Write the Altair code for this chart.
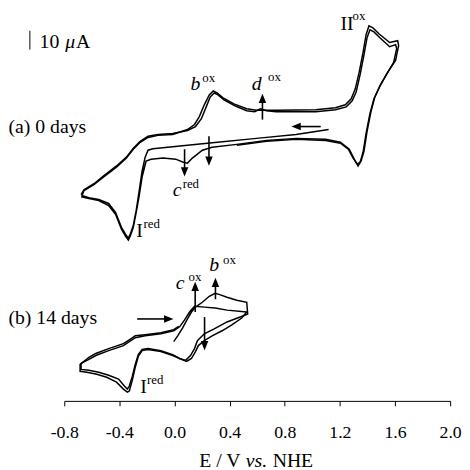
import altair as alt
import pandas as pd

# ---- data (E in V vs NHE, I in uA incl. vertical offset of each panel) ----
a_scan1 = [(1.118,144.7),(0.882,142.1),(0.595,140.0),(0.238,137.4),(-0.049,135.3),(-0.156,134.5),
 (-0.192,133.7),(-0.213,130.0),(-0.235,122.6),(-0.256,112.1),(-0.278,101.6),(-0.299,93.7),(-0.321,88.9),
 (-0.335,86.8),(-0.356,88.9),(-0.385,92.6),(-0.428,100.5),(-0.478,105.3),(-0.550,107.4),(-0.621,108.4),
 (-0.671,109.5),
 (-0.657,112.1),(-0.585,115.3),(-0.514,119.5),(-0.421,124.7),(-0.349,129.5),(-0.299,134.2),(-0.249,137.9),
 (-0.192,140.5),(-0.120,141.6),(-0.013,142.1),(0.094,144.7),(0.145,147.4),(0.180,151.6),(0.216,157.9),
 (0.252,163.2),(0.281,165.3),(0.309,164.2),(0.352,161.6),(0.431,158.4),(0.524,155.8),(0.595,155.0),
 (0.738,155.0),(1.025,155.3),(1.168,156.3),(1.239,157.9),(1.282,161.1),(1.311,166.3),(1.340,175.3),
 (1.368,185.8),(1.390,195.3),(1.411,200.0),(1.440,198.9),(1.483,195.8),(1.561,191.1),(1.619,192.1),
 (1.626,189.5),(1.604,181.6),(1.547,175.3),(1.497,168.9),(1.454,162.1),(1.425,154.2),(1.397,143.7),
 (1.375,133.2),(1.354,127.9),(1.332,125.3),(1.304,128.9),(1.268,134.2),(1.204,137.9),(1.096,139.5),
 (0.882,140.0),(0.667,138.9),(0.452,136.8),(0.273,135.3),(0.202,133.7),(0.130,129.5),(0.094,126.8),
 (0.059,127.4),(0.009,128.9),(-0.084,129.5),(-0.170,128.9),(-0.206,127.9),(-0.235,119.5),(-0.256,109.5),
 (-0.278,100.5),(-0.299,92.6),(-0.321,87.9),(-0.335,85.8),(-0.356,87.9),(-0.385,91.6),(-0.428,99.5),
 (-0.478,104.2),(-0.550,106.8),(-0.621,107.9),(-0.678,108.9)]

a_scan2 = [(-0.678,110.0),(-0.657,112.6),(-0.585,115.8),(-0.514,120.0),(-0.421,125.3),(-0.349,130.0),
 (-0.299,134.7),(-0.249,138.4),(-0.192,141.1),(-0.120,142.1),(-0.013,142.6),(0.094,144.2),(0.152,146.3),
 (0.195,150.5),(0.230,156.8),(0.259,162.1),(0.288,164.2),(0.316,163.2),(0.359,160.5),(0.438,157.4),
 (0.524,154.7),(0.581,154.2),(0.624,155.8),(0.667,154.7),(0.738,154.2),(1.025,154.2),(1.168,155.3),
 (1.246,156.8),(1.289,160.0),(1.318,164.7),(1.347,174.2),(1.375,184.7),(1.397,193.7),(1.418,197.9),
 (1.447,196.8),(1.490,193.7),(1.561,188.9),(1.604,190.0),
 (1.612,187.9),(1.590,180.5),(1.540,174.2),(1.490,167.9),(1.447,161.1),(1.418,153.2),(1.390,142.6),
 (1.368,132.6),(1.347,127.4),(1.325,126.3),(1.296,129.5),(1.261,134.2),(1.204,137.4),(1.096,138.9),
 (0.882,139.5),(0.667,138.4),(0.452,136.3)]

b_scan1 = [(-0.006,31.6),(0.023,34.7),(0.059,38.9),(0.094,43.7),(0.123,47.4),(0.152,50.0),(0.202,52.6),
 (0.252,55.8),(0.295,57.4),(0.323,56.8),(0.381,55.3),(0.452,53.7),(0.524,52.6),(0.531,46.3),
 (0.495,45.3),(0.438,43.7),(0.381,42.1),(0.288,38.4),(0.216,35.8),(0.166,32.1),(0.145,27.9),(0.116,24.2),
 (0.080,21.6),(0.037,22.6),(-0.013,24.7),(-0.099,26.8),(-0.192,27.9),(-0.235,27.4),(-0.263,24.7),
 (-0.285,19.5),(-0.306,13.2),(-0.328,7.9),(-0.342,6.3),(-0.364,7.9),(-0.406,11.6),(-0.478,13.7),
 (-0.550,15.3),(-0.621,16.3),(-0.678,16.8),
 (-0.678,20.0),(-0.621,22.1),(-0.571,24.2),(-0.478,26.8),(-0.371,29.5),(-0.328,31.6),(-0.285,33.7),
 (-0.213,34.7),(-0.099,35.8),(-0.006,37.4),(0.037,39.5),(0.073,43.2),(0.109,47.4),(0.145,50.5),
 (0.216,50.0),(0.295,49.5),(0.381,48.4),(0.524,47.4)]

b_scan2 = [(0.524,47.4),(0.488,44.2),(0.416,40.5),(0.345,37.4),(0.273,34.7),(0.216,32.1),(0.173,29.5),
 (0.152,26.3),(0.123,22.6),(0.087,21.1),(0.037,22.6),(-0.013,24.2),(-0.099,26.3),(-0.192,27.4),
 (-0.235,26.8),(-0.263,23.7),(-0.285,17.9),(-0.306,11.1),(-0.328,5.3),(-0.342,4.7),(-0.371,6.3),
 (-0.421,10.0),(-0.492,12.6),(-0.564,14.2),(-0.636,15.3),(-0.685,15.8),
 (-0.685,19.5),(-0.621,23.2),(-0.571,25.3),(-0.478,27.9),(-0.371,30.5),(-0.328,32.6),(-0.285,34.7),
 (-0.213,35.3),(-0.099,36.3),(-0.006,38.0),(0.030,39.8)]

# arrows: (tail E, tail I, tip E, tip I)
arrows = [(0.073,134.2,0.073,119.5),(0.250,141.1,0.250,125.3),(0.638,150.0,0.638,163.9),
          (1.061,146.3,0.846,146.3),(-0.271,43.7,-0.006,43.7),(0.150,47.4,0.150,63.7),
          (0.297,54.2,0.297,65.8),(0.218,44.7,0.218,26.8)]

# annotations: (E, I, text, style)
labels = [(0.116,165.8,"b","it"),(0.202,170.0,"ox","sup"),
          (0.560,165.8,"d","it"),(0.679,170.5,"ox","sup"),
          (1.204,197.9,"II","rm"),(1.292,203.2,"ox","sup"),
          (-0.013,109.5,"c","it"),(0.059,113.7,"red","sup"),
          (-0.278,87.4,"I","rm"),(-0.225,92.1,"red","sup"),
          (0.009,59.5,"c","it"),(0.102,63.7,"ox","sup"),
          (0.252,69.5,"b","it"),(0.352,73.2,"ox","sup"),
          (-0.249,4.2,"I","rm"),(-0.200,8.9,"red","sup"),
          (-1.205,142.6,"(a) 0 days","rm"),(-1.205,41.1,"(b) 14 days","rm"),
          (-0.979,188.4,"10","rm"),(-0.793,188.4,"\u03bc","it"),(-0.714,188.4,"A","rm"),
          (0.180,-35.3,"E / V","rm"),(0.517,-35.3,"vs.","it"),(0.712,-35.3,"NHE","rm")]

scale_bar = [(-1.050,187.4,197.4)]
tick_values = [-0.8,-0.4,0.0,0.4,0.8,1.2,1.6,2.0]

# ---- tables ----
rows = []
for name, pts in [("a1",a_scan1),("a2",a_scan2),("b1",b_scan1),("b2",b_scan2)]:
    for k,(e,i) in enumerate(pts):
        rows.append({"E":e,"I":i,"trace":name,"idx":k})
curves = pd.DataFrame(rows)

HX = 0.036   # head half-length in V
HY = 2.6     # head half-length in uA
arows = []
for (e1,i1,e2,i2) in arrows:
    if e1 == e2:
        up = i2 > i1
        ci = i2 - HY if up else i2 + HY
        arows.append({"E1":e1,"I1":i1,"E2":e2,"I2":ci,"Eh":e2,"Ih":ci,
                      "shape":"M0,-1L0.8,1L-0.8,1Z" if up else "M0,1L0.8,-1L-0.8,-1Z"})
    else:
        right = e2 > e1
        ce = e2 - HX if right else e2 + HX
        arows.append({"E1":e1,"I1":i1,"E2":ce,"I2":i2,"Eh":ce,"Ih":i2,
                      "shape":"M1,0L-1,-0.8L-1,0.8Z" if right else "M-1,0L1,-0.8L1,0.8Z"})
arr = pd.DataFrame(arows)
lab = pd.DataFrame(labels, columns=["E","I","text","style"])
bar = pd.DataFrame(scale_bar, columns=["E","I1","I2"])

FONT = "Liberation Serif"
xscale = alt.Scale(domain=[-0.8,2.0], nice=False, zero=False)
yscale = alt.Scale(domain=[0,207.9], nice=False, zero=False)

xaxis = alt.Axis(values=tick_values, title=None, grid=False,
                 labelExpr="replace(format(datum.value, '.1f'), '\u2212', '-')",
                 labelFont=FONT, labelFontSize=18, labelColor="black",
                 labelBaseline="alphabetic", labelPadding=32, labelFlush=False,
                 labelOverlap=False, tickSize=5, tickColor="black", domainColor="black",
                 tickWidth=1, domainWidth=1)

lines = alt.Chart(curves).mark_line(color="black", strokeWidth=1.5).encode(
    x=alt.X("E:Q", scale=xscale, axis=xaxis),
    y=alt.Y("I:Q", scale=yscale, axis=None),
    detail="trace:N", order="idx:Q")

shafts = alt.Chart(arr).mark_rule(color="black", strokeWidth=1.6).encode(
    x=alt.X("E1:Q", scale=xscale), y=alt.Y("I1:Q", scale=yscale), x2="E2:Q", y2="I2:Q")

heads = alt.Chart(arr).mark_point(filled=True, color="black", opacity=1, size=90, strokeWidth=0).encode(
    x=alt.X("Eh:Q", scale=xscale), y=alt.Y("Ih:Q", scale=yscale),
    shape=alt.Shape("shape:N", scale=None))

barl = alt.Chart(bar).mark_rule(color="#555555", strokeWidth=1.5).encode(
    x=alt.X("E:Q", scale=xscale), y=alt.Y("I1:Q", scale=yscale), y2="I2:Q")

def txt(style, size, italic):
    m = alt.Chart(lab).transform_filter(alt.datum.style == style).mark_text(
        font=FONT, fontSize=size, fontStyle="italic" if italic else "normal",
        align="left", baseline="alphabetic", color="black")
    return m.encode(x=alt.X("E:Q", scale=xscale), y=alt.Y("I:Q", scale=yscale), text="text:N")

chart = alt.layer(lines, shafts, heads, barl,
                  txt("rm", 20, False), txt("it", 20, True), txt("sup", 13, False)).properties(
    width=391, height=395,
    autosize=alt.AutoSizeParams(type="none"),
    padding={"left":57, "top":0, "right":12, "bottom":72},
).configure_view(stroke=None)

chart.save("out.html", embed_options={"renderer": "svg", "actions": False})
